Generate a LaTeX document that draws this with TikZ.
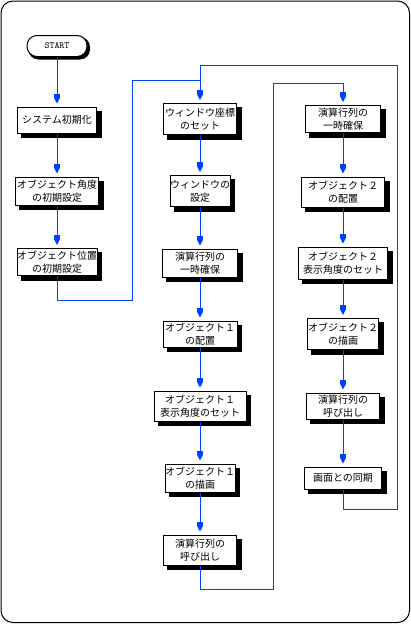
\documentclass[tikz,border=0pt]{standalone}
\usepackage{fontspec}
\setmainfont{Noto Sans CJK JP}
\usetikzlibrary{arrows.meta,backgrounds}
\definecolor{flow}{RGB}{0,64,255}
\begin{document}
\begin{tikzpicture}[x=1pt,y=-1pt,
  box/.style={draw=black,line width=1pt,fill=white,align=center,inner sep=0pt,
    font=\fontsize{10}{13}\selectfont},
  startbox/.style={draw=black,line width=1pt,fill=white,inner sep=0pt,rounded corners=10pt,
    font=\ttfamily\fontsize{9.5}{9.5}\selectfont},
  shadowfill/.style={fill=black},
  flowline/.style={draw=flow,line width=1pt},
  arr/.style={flowline,-{Rectangle[length=4pt,width=6pt,sep=0pt]Triangle[length=6pt,width=6pt]},shorten >=3pt}
]
\useasboundingbox (0,0) rectangle (411,624);
\draw[line width=1pt,rounded corners=12pt] (1,1) rectangle (409.5,622.5);

% column 1
\node[startbox,minimum width=60pt,minimum height=21pt] (start) at (57,46) {START};
\node[box,minimum width=79pt,minimum height=26pt] (b1) at (57,120) {システム初期化};
\node[box,minimum width=83pt,minimum height=28pt] (b2) at (57,191) {オブジェクト角度\\の初期設定};
\node[box,minimum width=80pt,minimum height=27pt] (b3) at (57,262) {オブジェクト位置\\の初期設定};

% column 2
\node[box,minimum width=73pt,minimum height=31pt] (c1) at (200,119) {ウィンドウ座標\\のセット};
\node[box,minimum width=56pt,minimum height=31pt] (c2) at (200,191) {ウィンドウの\\設定};
\node[box,minimum width=75pt,minimum height=28pt] (c3) at (200,263) {演算行列の\\一時確保};
\node[box,minimum width=74pt,minimum height=26pt] (c4) at (200,334) {オブジェクト１\\の配置};
\node[box,minimum width=92pt,minimum height=30pt] (c5) at (200,406) {オブジェクト１\\表示角度のセット};
\node[box,minimum width=68pt,minimum height=28pt] (c6) at (200,478) {オブジェクト１\\の描画};
\node[box,minimum width=73pt,minimum height=30pt] (c7) at (200,550) {演算行列の\\呼び出し};

% column 3
\node[box,minimum width=75pt,minimum height=27pt] (d1) at (343,119) {演算行列の\\一時確保};
\node[box,minimum width=83pt,minimum height=30pt] (d2) at (343,192) {オブジェクト２\\の配置};
\node[box,minimum width=89pt,minimum height=32pt] (d3) at (343,263) {オブジェクト２\\表示角度のセット};
\node[box,minimum width=71pt,minimum height=31pt] (d4) at (343,334) {オブジェクト２\\の描画};
\node[box,minimum width=73pt,minimum height=26pt] (d5) at (343,406) {演算行列の\\呼び出し};
\node[box,minimum width=77pt,minimum height=22pt] (d6) at (343,478) {画面との同期};

% shadows
\begin{scope}[on background layer]
  \foreach \n in {b1,b2,b3,c1,c2,c3,c4,c5,c6,c7,d1,d2,d3,d4,d5,d6}
    \fill[shadowfill] ([shift={(4,4)}]\n.north west) rectangle ([shift={(4.5,4.5)}]\n.south east);
  \fill[shadowfill,rounded corners=10pt] ([shift={(2,2)}]start.north west) rectangle ([shift={(2.5,2.5)}]start.south east);
\end{scope}

% connectors
\draw[arr] (start) -- (b1);
\draw[arr] (b1) -- (b2);
\draw[arr] (b2) -- (b3);
\coordinate (m1) at (200,80);
\draw[flowline] (b3.south) |- (132,300) |- (m1);

\draw[arr] (d6.south) |- (397,509) |- (200,65) -- (c1.north);
\draw[arr] (c1) -- (c2);
\draw[arr] (c2) -- (c3);
\draw[arr] (c3) -- (c4);
\draw[arr] (c4) -- (c5);
\draw[arr] (c5) -- (c6);
\draw[arr] (c6) -- (c7);

\draw[arr] (c7.south) |- (273,589) |- (343,83) -- (d1.north);
\draw[arr] (d1) -- (d2);
\draw[arr] (d2) -- (d3);
\draw[arr] (d3) -- (d4);
\draw[arr] (d4) -- (d5);
\draw[arr] (d5) -- (d6);
\end{tikzpicture}
\end{document}
